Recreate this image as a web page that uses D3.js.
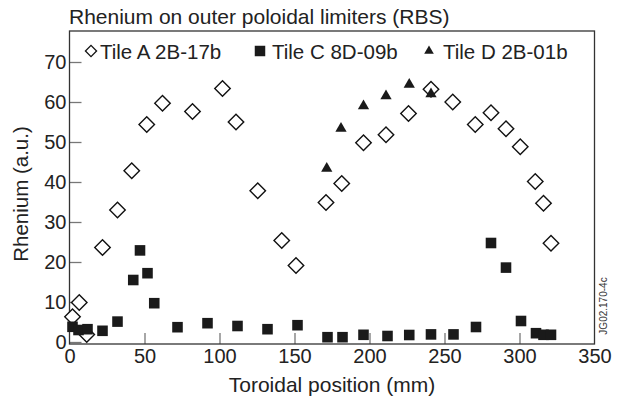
<!DOCTYPE html>
<html><head><meta charset="utf-8">
<script src="https://cdn.jsdelivr.net/npm/d3@7"></script>
<style>body{margin:0;background:#fff}svg{display:block;font-family:"Liberation Sans",Arial,sans-serif}</style>
</head><body><svg id="c" width="621" height="403"></svg>
<script>
const tileA_x = [2, 6.5, 11.5, 22, 32, 41.5, 51.5, 62, 82, 102, 111, 125.5, 141.5, 151, 171, 181.5, 196, 211, 226, 241, 255.5, 270.5, 281, 291, 300.5, 310.5, 316, 321];
const tileA_y = [6.3, 9.9, 1.9, 23.6, 33, 42.8, 54.4, 59.7, 57.6, 63.4, 55, 37.8, 25.4, 19.1, 34.9, 39.6, 49.8, 51.8, 57.1, 63.2, 60, 54.4, 57.3, 53.3, 48.8, 40.1, 34.7, 24.7];
const tileC_x = [2, 6, 12, 22, 32, 42.5, 47, 52, 56.5, 72, 92, 112, 132, 152, 172, 182, 196, 212, 226.5, 241, 256, 271, 281, 291, 301, 311, 316, 321];
const tileC_y = [3.8, 3, 3.2, 2.8, 5.1, 15.5, 22.9, 17.2, 9.7, 3.7, 4.7, 4, 3.2, 4.2, 1.2, 1.2, 1.8, 1.5, 1.75, 1.9, 1.9, 3.75, 24.75, 18.6, 5.25, 2.2, 1.8, 1.8];
const tileD_x = [171.5, 181, 196, 211, 226.5, 241];
const tileD_y = [43.4, 53.4, 59, 61.5, 64.4, 62];
const seriesNames = ["Tile A 2B-17b", "Tile C 8D-09b", "Tile D 2B-01b"];
const xTicks = [0, 50, 100, 150, 200, 250, 300, 350];
const yTicks = [0, 10, 20, 30, 40, 50, 60, 70];
const title = "Rhenium on outer poloidal limiters (RBS)";
const xLabel = "Toroidal position (mm)";
const yLabel = "Rhenium (a.u.)";
const stamp = "JG02.170-4c";

const svg = d3.select("#c");
const m = {l: 69.5, r: 26.5, t: 31, b: 59};
const W = 621, H = 403;
const x = d3.scaleLinear().domain([0, 350]).range([m.l, W - m.r]);
const y = d3.scaleLinear().domain([-0.5, 77.75]).range([H - m.b, m.t]);

// ticks (inward)
const xa = svg.append("g").attr("transform", `translate(0,${H - m.b})`)
  .call(d3.axisBottom(x).tickValues(xTicks).tickSize(-11).tickPadding(5).tickFormat(d3.format("d")));
xa.select(".domain").remove();
xa.selectAll("line").attr("stroke", "#777").attr("stroke-width", 1.3).filter(d => d === 0 || d === 350).remove();
xa.selectAll("text").attr("font-size", 20).attr("fill", "#222").attr("font-family", "Liberation Sans, Arial, sans-serif");

const ya = svg.append("g").attr("transform", `translate(${m.l},0)`)
  .call(d3.axisLeft(y).tickValues(yTicks).tickSize(-12).tickPadding(3).tickFormat(d3.format("d")));
ya.select(".domain").remove();
ya.selectAll("line").attr("stroke", "#777").attr("stroke-width", 1.3);
ya.selectAll("text").attr("font-size", 20).attr("fill", "#222").attr("font-family", "Liberation Sans, Arial, sans-serif");

// frame
svg.append("rect").attr("x", m.l).attr("y", m.t).attr("width", W - m.l - m.r).attr("height", H - m.t - m.b)
  .attr("fill", "none").attr("stroke", "#333").attr("stroke-width", 1.3);

// series
const diamond = d3.symbol().type(d3.symbolSquare).size(120);
const square = d3.symbol().type(d3.symbolSquare).size(112);
const tri = d3.symbol().type(d3.symbolTriangle).size(55);

svg.append("g").selectAll("path").data(tileA_x.map((v, i) => [v, tileA_y[i]])).join("path")
  .attr("d", diamond).attr("transform", d => `translate(${x(d[0])},${y(d[1])}) rotate(45)`)
  .attr("fill", "#fff").attr("stroke", "#111").attr("stroke-width", 1.4);
svg.append("g").selectAll("path").data(tileC_x.map((v, i) => [v, tileC_y[i]])).join("path")
  .attr("d", square).attr("transform", d => `translate(${x(d[0])},${y(d[1])})`)
  .attr("fill", "#1a1a1a");
svg.append("g").selectAll("path").data(tileD_x.map((v, i) => [v, tileD_y[i]])).join("path")
  .attr("d", tri).attr("transform", d => `translate(${x(d[0])},${y(d[1])})`)
  .attr("fill", "#1a1a1a");

// legend
const lg = svg.append("g").attr("font-size", 20.5).attr("fill", "#222");
const legY = 51;
const legItems = [
  {sym: d3.symbol().type(d3.symbolSquare).size(62)(), rot: 45, fill: "#fff", stroke: "#111", cx: 91, tx: 100},
  {sym: d3.symbol().type(d3.symbolSquare).size(110)(), rot: 0, fill: "#1a1a1a", stroke: "none", cx: 260, tx: 272},
  {sym: d3.symbol().type(d3.symbolTriangle).size(40)(), rot: 0, fill: "#1a1a1a", stroke: "none", cx: 429, tx: 443}
];
legItems.forEach((it, i) => {
  lg.append("path").attr("d", it.sym).attr("transform", `translate(${it.cx},${legY}) rotate(${it.rot})`)
    .attr("fill", it.fill).attr("stroke", it.stroke).attr("stroke-width", 1.3);
  lg.append("text").attr("x", it.tx).attr("y", legY + 8).text(seriesNames[i]);
});

// texts
svg.append("text").attr("x", 69).attr("y", 23.5).attr("font-size", 21).attr("fill", "#222").text(title);
svg.append("text").attr("x", (m.l + W - m.r) / 2).attr("y", 392).attr("text-anchor", "middle")
  .attr("font-size", 21).attr("fill", "#222").text(xLabel);
svg.append("text").attr("transform", "translate(28,194) rotate(-90)").attr("text-anchor", "middle")
  .attr("font-size", 20.5).attr("fill", "#222").text(yLabel);
svg.append("text").attr("transform", "translate(607,306) rotate(-90)").attr("text-anchor", "middle")
  .attr("font-size", 10).attr("fill", "#333").text(stamp);
</script></body></html>
